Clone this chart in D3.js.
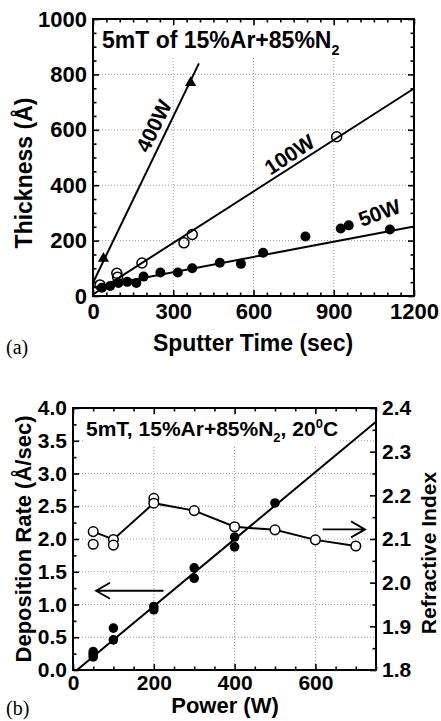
<!DOCTYPE html>
<html>
<head>
<meta charset="utf-8">
<script src="https://cdn.jsdelivr.net/npm/d3@7"></script>
<style>
  body { margin: 0; background: #fff; }
  svg text { font-family: "Liberation Sans", Arial, sans-serif; font-weight: bold; fill: #000; }
  .panelTag { font-family: "Liberation Serif", "Times New Roman", serif !important; font-weight: normal !important; }
</style>
</head>
<body>
<div id="vis"></div>
<script>
// ---- (a) thickness vs sputter time ----
const time50 = [33, 64, 95, 128, 162, 189, 252, 317, 371, 474, 553, 636, 794, 926, 956, 1110];
const thick50 = [30, 36, 47, 51, 47, 70, 85, 85, 100, 120, 116, 156, 215, 244, 255, 240];
const time100 = [26, 89, 92, 183, 340, 371, 911];
const thick100 = [40, 82, 68, 119, 192, 222, 575];
const time400 = [39, 365];
const thick400 = [135, 770];
// fitted lines (end points)
const fitTime50 = [0, 1200], fitThick50 = [31, 251];
const fitTime100 = [0, 1200], fitThick100 = [6, 749];
const fitTime400 = [0, 396], fitThick400 = [48, 840];
const labelsA = ["400W", "100W", "50W"];
const labelTimeA = [233, 738, 1073];
const labelThickA = [611, 505, 295];
const xTicksA = [0, 300, 600, 900, 1200];
const yTicksA = [0, 200, 400, 600, 800, 1000];

// ---- (b) deposition rate / refractive index vs power ----
const power = [50, 50, 50, 100, 100, 200, 200, 300, 300, 400, 400, 500];
const rate = [0.28, 0.2, 0.24, 0.64, 0.46, 0.97, 0.92, 1.56, 1.40, 2.03, 1.88, 2.55];
const fitPower = [10, 750], fitRate = [0, 3.79];
const riPower = [50, 50, 100, 100, 200, 200, 300, 400, 500, 600, 700];
const riValue = [2.117, 2.088, 2.099, 2.086, 2.193, 2.182, 2.165, 2.128, 2.121, 2.098, 2.084];
const riLinePower = [50, 100, 200, 300, 400, 500, 600, 700];
const riLineValue = [2.117, 2.099, 2.182, 2.165, 2.128, 2.121, 2.098, 2.084];
const xTicksB = [0, 200, 400, 600];
const yTicksB = [0, 0.5, 1, 1.5, 2, 2.5, 3, 3.5, 4];
const yTicksB2 = [1.8, 1.9, 2.0, 2.1, 2.2, 2.3, 2.4];
// arrows: [power start, power end, value]
const arrowRate = [224, 57, 1.21];
const arrowRI = [618, 723, 2.122];

const width = 441
const height = 721

const svg = d3.select("#vis")
  .append("svg")
  .attr("width", width)
  .attr("height", height);

function range(a, b, step) {
  const out = [];
  for (let v = a; v <= b + 1e-9; v += step) out.push(+v.toFixed(4));
  return out;
}

// draws ticks on all 4 sides + grid + frame
function frame(x, y, opt) {
  const [x0, x1] = x.range();
  const [y0, y1] = y.range(); // y0 bottom, y1 top
  const g = svg.append("g");

  // grid
  g.append("g").selectAll("line").data(opt.gridX).enter().append("line")
    .attr("x1", d => x(d)).attr("x2", d => x(d))
    .attr("y1", y0).attr("y2", y1)
    .attr("stroke", "#9a9a9a").attr("stroke-width", 1).attr("stroke-dasharray", "1,2");
  g.append("g").selectAll("line").data(opt.gridY).enter().append("line")
    .attr("y1", d => y(d)).attr("y2", d => y(d))
    .attr("x1", x0).attr("x2", x1)
    .attr("stroke", "#9a9a9a").attr("stroke-width", 1).attr("stroke-dasharray", "1,2");

  const axes = [];
  axes.push(g.append("g").attr("transform", `translate(0,${y0})`)
    .call(d3.axisBottom(x).tickValues(opt.xMajor).tickSize(-6).tickPadding(opt.xPad).tickFormat(d3.format("d"))));
  axes.push(g.append("g").attr("transform", `translate(0,${y0})`)
    .call(d3.axisBottom(x).tickValues(opt.xMinor).tickSize(-3.5).tickFormat("")));
  axes.push(g.append("g").attr("transform", `translate(0,${y1})`)
    .call(d3.axisTop(x).tickValues(opt.xMajor).tickSize(-6).tickFormat("")));
  axes.push(g.append("g").attr("transform", `translate(0,${y1})`)
    .call(d3.axisTop(x).tickValues(opt.xMinor).tickSize(-3.5).tickFormat("")));
  axes.push(g.append("g").attr("transform", `translate(${x0},0)`)
    .call(d3.axisLeft(y).tickValues(opt.yMajor).tickSize(-6).tickPadding(6).tickFormat(opt.yFmt)));
  axes.push(g.append("g").attr("transform", `translate(${x0},0)`)
    .call(d3.axisLeft(y).tickValues(opt.yMinor).tickSize(-3.5).tickFormat("")));
  if (!opt.y2) {
    axes.push(g.append("g").attr("transform", `translate(${x1},0)`)
      .call(d3.axisRight(y).tickValues(opt.yMajor).tickSize(-6).tickFormat("")));
    axes.push(g.append("g").attr("transform", `translate(${x1},0)`)
      .call(d3.axisRight(y).tickValues(opt.yMinor).tickSize(-3.5).tickFormat("")));
  } else {
    axes.push(g.append("g").attr("transform", `translate(${x1},0)`)
      .call(d3.axisRight(opt.y2).tickValues(opt.y2Major).tickSize(-6).tickPadding(6).tickFormat(d3.format(".1f"))));
    axes.push(g.append("g").attr("transform", `translate(${x1},0)`)
      .call(d3.axisRight(opt.y2).tickValues(opt.y2Minor).tickSize(-3.5).tickFormat("")));
  }
  axes.forEach(a => {
    a.select(".domain").remove();
    a.selectAll("line").attr("stroke", "#000").attr("stroke-width", 1.6);
    a.selectAll("text").style("font-size", opt.fs + "px").style("font-family", '"Liberation Sans", Arial, sans-serif').style("font-weight", "bold");
  });

  g.append("rect")
    .attr("x", x0).attr("y", y1)
    .attr("width", x1 - x0).attr("height", y0 - y1)
    .attr("fill", "none").attr("stroke", "#000").attr("stroke-width", 2);
  return g;
}

function titleWithBg(g, x, y, fs, parts) {
  const bg = g.append("rect").attr("fill", "#fff");
  const t = g.append("text").attr("x", x).attr("y", y).style("font-size", fs + "px");
  parts.forEach(p => {
    const s = t.append("tspan").text(p.t);
    if (p.sub) s.style("font-size", (fs * 0.62) + "px").attr("dy", fs * 0.3);
    if (p.sup) s.style("font-size", (fs * 0.62) + "px").attr("dy", -fs * 0.4);
    if (p.back) s.attr("dy", p.back);
  });
  const bb = t.node().getBBox();
  bg.attr("x", bb.x - 2).attr("y", bb.y).attr("width", bb.width + 4).attr("height", bb.height);
}

// ================= panel (a) =================
const xA = d3.scaleLinear().domain([0, 1200]).range([93, 414]);
const yA = d3.scaleLinear().domain([0, 1000]).range([296, 19]);

const gA = frame(xA, yA, {
  gridX: [300, 600, 900], gridY: [200, 400, 600, 800],
  xMajor: xTicksA, xMinor: range(0, 1200, 50).filter(d => d % 300),
  yMajor: yTicksA, yMinor: range(0, 1000, 50).filter(d => d % 200),
  xPad: 7, fs: 22, yFmt: d3.format("d")
});

const lineA = d3.line().x(d => xA(d[0])).y(d => yA(d[1]));
[[fitTime50, fitThick50], [fitTime100, fitThick100], [fitTime400, fitThick400]].forEach(f => {
  gA.append("path")
    .attr("d", lineA(f[0].map((t, i) => [t, f[1][i]])))
    .attr("fill", "none").attr("stroke", "#000").attr("stroke-width", 2);
});

gA.selectAll("c50").data(time50.map((t, i) => [t, thick50[i]])).enter()
  .append("circle")
  .attr("cx", d => xA(d[0])).attr("cy", d => yA(d[1])).attr("r", 5)
  .attr("fill", "#000");

gA.selectAll("c100").data(time100.map((t, i) => [t, thick100[i]])).enter()
  .append("circle")
  .attr("cx", d => xA(d[0])).attr("cy", d => yA(d[1])).attr("r", 5)
  .attr("fill", "none").attr("stroke", "#000").attr("stroke-width", 1.5);

gA.selectAll("t400").data(time400.map((t, i) => [t, thick400[i]])).enter()
  .append("path")
  .attr("d", d3.symbol(d3.symbolTriangle, 55))
  .attr("transform", d => `translate(${xA(d[0])},${yA(d[1])})`)
  .attr("fill", "#000");

const rotA = [-64, -33, -20];
labelsA.forEach((l, i) => {
  gA.append("text")
    .attr("text-anchor", "middle").attr("dominant-baseline", "middle")
    .attr("transform", `translate(${xA(labelTimeA[i])},${yA(labelThickA[i])}) rotate(${rotA[i]})`)
    .style("font-size", "21px")
    .text(l);
});

titleWithBg(gA, 102, 48, 23, [{ t: "5mT of 15%Ar+85%N" }, { t: "2", sub: true }]);

svg.append("text")
  .attr("transform", "translate(32,173) rotate(-90)")
  .attr("text-anchor", "middle").style("font-size", "23px")
  .text("Thickness (Å)");
svg.append("text")
  .attr("x", 253).attr("y", 351)
  .attr("text-anchor", "middle").style("font-size", "23px")
  .text("Sputter Time (sec)");
svg.append("text").attr("class", "panelTag")
  .attr("x", 6).attr("y", 354).style("font-size", "20px")
  .text("(a)");

// ================= panel (b) =================
const xB = d3.scaleLinear().domain([0, 750]).range([73, 376]);
const yB = d3.scaleLinear().domain([0, 4]).range([670, 408]);
const yB2 = d3.scaleLinear().domain([1.8, 2.4]).range([670, 408]);

const gB = frame(xB, yB, {
  gridX: [200, 400, 600], gridY: [0.5, 1, 1.5, 2, 2.5, 3, 3.5],
  xMajor: xTicksB, xMinor: range(0, 750, 50).filter(d => d % 200),
  yMajor: yTicksB, yMinor: range(0.25, 3.75, 0.5),
  y2: yB2, y2Major: yTicksB2, y2Minor: range(1.85, 2.35, 0.1),
  xPad: 5, fs: 21, yFmt: d3.format(".1f")
});

gB.append("path")
  .attr("d", d3.line().x(d => xB(d[0])).y(d => yB(d[1]))(fitPower.map((p, i) => [p, fitRate[i]])))
  .attr("fill", "none").attr("stroke", "#000").attr("stroke-width", 2);

gB.selectAll("cr").data(power.map((p, i) => [p, rate[i]])).enter()
  .append("circle")
  .attr("cx", d => xB(d[0])).attr("cy", d => yB(d[1])).attr("r", 4.8)
  .attr("fill", "#000");

gB.append("path")
  .attr("d", d3.line().x(d => xB(d[0])).y(d => yB2(d[1]))(riLinePower.map((p, i) => [p, riLineValue[i]])))
  .attr("fill", "none").attr("stroke", "#000").attr("stroke-width", 2);

gB.selectAll("cri").data(riPower.map((p, i) => [p, riValue[i]])).enter()
  .append("circle")
  .attr("cx", d => xB(d[0])).attr("cy", d => yB2(d[1])).attr("r", 4.8)
  .attr("fill", "#fff").attr("stroke", "#000").attr("stroke-width", 1.5);

function arrow(x1, x2, y) {
  const dir = x2 > x1 ? 1 : -1;
  const p = d3.path();
  p.moveTo(x1, y); p.lineTo(x2, y);
  p.moveTo(x2 - dir * 14, y - 8); p.lineTo(x2, y); p.lineTo(x2 - dir * 14, y + 8);
  gB.append("path").attr("d", p.toString())
    .attr("fill", "none").attr("stroke", "#000").attr("stroke-width", 1.8);
}
arrow(xB(arrowRate[0]), xB(arrowRate[1]), yB(arrowRate[2]));
arrow(xB(arrowRI[0]), xB(arrowRI[1]), yB2(arrowRI[2]));

titleWithBg(gB, 86, 436, 21, [
  { t: "5mT, 15%Ar+85%N" }, { t: "2", sub: true },
  { t: ", 20", back: -21 * 0.3 }, { t: "0", sup: true }, { t: "C", back: 21 * 0.4 }
]);

svg.append("text")
  .attr("transform", "translate(31,539) rotate(-90)")
  .attr("text-anchor", "middle").style("font-size", "22px")
  .text("Deposition Rate (Å/sec)");
svg.append("text")
  .attr("transform", "translate(436,553) rotate(-90)")
  .attr("text-anchor", "middle").style("font-size", "21px")
  .text("Refractive Index");
svg.append("text")
  .attr("x", 225).attr("y", 713)
  .attr("text-anchor", "middle").style("font-size", "22px")
  .text("Power (W)");
svg.append("text").attr("class", "panelTag")
  .attr("x", 6).attr("y", 715).style("font-size", "20px")
  .text("(b)");
</script>
</body>
</html>
